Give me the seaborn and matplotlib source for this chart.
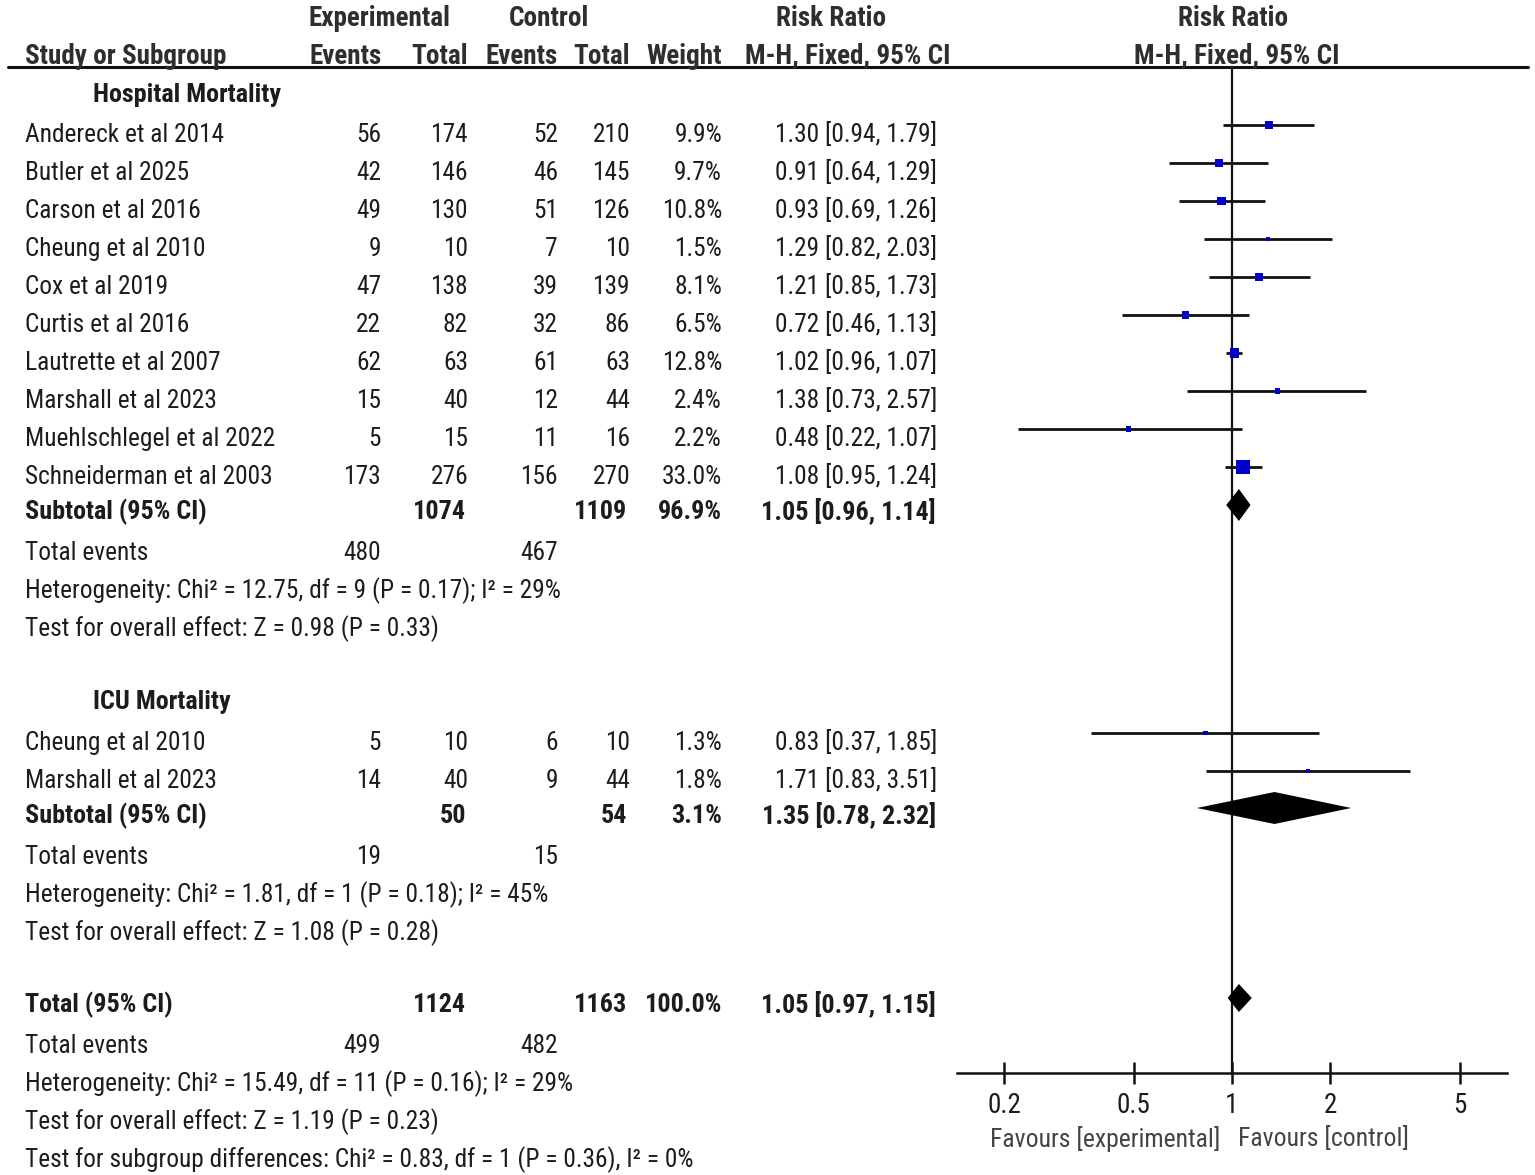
import numpy as np
import pandas as pd
import matplotlib
matplotlib.use('Agg')
import matplotlib.pyplot as plt
import seaborn as sns

sns.set_style('white')
plt.rcParams['font.family'] = ['Roboto Condensed', 'DejaVu Sans']

# ---- data ----
hosp_names = ['Andereck et al 2014', 'Butler et al 2025', 'Carson et al 2016', 'Cheung et al 2010',
              'Cox et al 2019', 'Curtis et al 2016', 'Lautrette et al 2007', 'Marshall et al 2023',
              'Muehlschlegel et al 2022', 'Schneiderman et al 2003']
hosp_exp_ev = [56, 42, 49, 9, 47, 22, 62, 15, 5, 173]
hosp_exp_n = [174, 146, 130, 10, 138, 82, 63, 40, 15, 276]
hosp_ctl_ev = [52, 46, 51, 7, 39, 32, 61, 12, 11, 156]
hosp_ctl_n = [210, 145, 126, 10, 139, 86, 63, 44, 16, 270]
hosp_weight = [9.9, 9.7, 10.8, 1.5, 8.1, 6.5, 12.8, 2.4, 2.2, 33.0]
hosp_rr = [1.30, 0.91, 0.93, 1.29, 1.21, 0.72, 1.02, 1.38, 0.48, 1.08]
hosp_lo = [0.94, 0.64, 0.69, 0.82, 0.85, 0.46, 0.96, 0.73, 0.22, 0.95]
hosp_hi = [1.79, 1.29, 1.26, 2.03, 1.73, 1.13, 1.07, 2.57, 1.07, 1.24]

icu_names = ['Cheung et al 2010', 'Marshall et al 2023']
icu_exp_ev = [5, 14]
icu_exp_n = [10, 40]
icu_ctl_ev = [6, 9]
icu_ctl_n = [10, 44]
icu_weight = [1.3, 1.8]
icu_rr = [0.83, 1.71]
icu_lo = [0.37, 0.83]
icu_hi = [1.85, 3.51]

# pooled rows
hosp_sub = dict(exp_n=1074, ctl_n=1109, weight=96.9, rr=1.05, lo=0.96, hi=1.14, exp_ev=480, ctl_ev=467)
icu_sub = dict(exp_n=50, ctl_n=54, weight=3.1, rr=1.35, lo=0.78, hi=2.32, exp_ev=19, ctl_ev=15)
overall = dict(exp_n=1124, ctl_n=1163, weight=100.0, rr=1.05, lo=0.97, hi=1.15, exp_ev=499, ctl_ev=482)

hosp_het = 'Heterogeneity: Chi\u00b2 = 12.75, df = 9 (P = 0.17); I\u00b2 = 29%'
hosp_eff = 'Test for overall effect: Z = 0.98 (P = 0.33)'
icu_het = 'Heterogeneity: Chi\u00b2 = 1.81, df = 1 (P = 0.18); I\u00b2 = 45%'
icu_eff = 'Test for overall effect: Z = 1.08 (P = 0.28)'
all_het = 'Heterogeneity: Chi\u00b2 = 15.49, df = 11 (P = 0.16); I\u00b2 = 29%'
all_eff = 'Test for overall effect: Z = 1.19 (P = 0.23)'
all_sub = 'Test for subgroup differences: Chi\u00b2 = 0.83, df = 1 (P = 0.36), I\u00b2 = 0%'

ticks = [0.2, 0.5, 1, 2, 5]
tick_labels = ['0.2', '0.5', '1', '2', '5']

# ---- layout (pixel units, figure is 1535 x 1175) ----
W, H = 1535, 1175
FS = 18.3        # body text
FSB = 18.8       # bold body text
FSH = 19.5       # header
TXT = '#1c1c1c'
col_name = 25
col_eev, col_en, col_cev, col_cn, col_w, col_rr = 381, 468, 558, 630, 722, 937
row0, dy = 135, 38
hosp_y = [row0 + i * dy for i in range(len(hosp_names))]
y_hosp_sub = 512
y_icu_head = 702
icu_y = [743, 781]
y_icu_sub = 816
y_total = 1005
y_axis = 1073
MARK_DY = -10

fig = plt.figure(figsize=(W / 100, H / 100), dpi=100)
tab = fig.add_axes([0, 0, 1, 1])
tab.set_xlim(0, W)
tab.set_ylim(H, 0)
tab.axis('off')


def txt(x, y, s, ha='left', bold=False, **kw):
    fs = kw.pop('fs', FSB if bold else FS)
    tab.text(x, y, s, ha=ha, va='center', fontsize=fs,
             fontweight='bold' if bold else 'normal', color=kw.pop('color', TXT), **kw)


def ci_str(r, l, h):
    return f'{r:.2f} [{l:.2f}, {h:.2f}]'


# header
hc = '#2e2e2e'
txt(379, 19, 'Experimental', ha='center', bold=True, color=hc, fs=FSH)
txt(549, 19, 'Control', ha='center', bold=True, color=hc, fs=FSH)
txt(831, 19, 'Risk Ratio', ha='center', bold=True, color=hc, fs=FSH)
txt(1233, 19, 'Risk Ratio', ha='center', bold=True, color=hc, fs=FSH)
txt(col_name, 56, 'Study or Subgroup', bold=True, color=hc, fs=FSH)
txt(col_eev + 1, 56, 'Events', ha='right', bold=True, color=hc, fs=FSH)
txt(col_en, 56, 'Total', ha='right', bold=True, color=hc, fs=FSH)
txt(col_cev, 56, 'Events', ha='right', bold=True, color=hc, fs=FSH)
txt(col_cn, 56, 'Total', ha='right', bold=True, color=hc, fs=FSH)
txt(col_w, 56, 'Weight', ha='right', bold=True, color=hc, fs=FSH)
txt(848, 56, 'M-H, Fixed, 95% CI', ha='center', bold=True, color=hc, fs=FSH)
txt(1237, 56, 'M-H, Fixed, 95% CI', ha='center', bold=True, color=hc, fs=FSH)
tab.plot([8, 1528], [67, 67], color='#111111', lw=2.2)


def study_rows(ys, names, eev, en, cev, cn, wt, rr, lo, hi):
    for i, y in enumerate(ys):
        txt(col_name, y, names[i])
        txt(col_eev, y, str(eev[i]), ha='right')
        txt(col_en, y, str(en[i]), ha='right')
        txt(col_cev, y, str(cev[i]), ha='right')
        txt(col_cn, y, str(cn[i]), ha='right')
        txt(col_w, y, f'{wt[i]:.1f}%', ha='right')
        txt(col_rr, y, ci_str(rr[i], lo[i], hi[i]), ha='right')


def summary_rows(y, label, d, het, eff, extra=None):
    txt(col_name, y, label, bold=True)
    txt(col_en - 2, y, str(d['exp_n']), ha='right', bold=True)
    txt(col_cn - 3, y, str(d['ctl_n']), ha='right', bold=True)
    txt(col_w, y, f"{d['weight']:.1f}%", ha='right', bold=True)
    txt(col_rr - 1, y, ci_str(d['rr'], d['lo'], d['hi']), ha='right', bold=True)
    txt(col_name, y + 41, 'Total events')
    txt(col_eev, y + 41, str(d['exp_ev']), ha='right')
    txt(col_cev, y + 41, str(d['ctl_ev']), ha='right')
    txt(col_name, y + 79, het)
    txt(col_name, y + 117, eff)
    if extra:
        txt(col_name, y + 155, extra)


txt(93, 95, 'Hospital Mortality', bold=True)
study_rows(hosp_y, hosp_names, hosp_exp_ev, hosp_exp_n, hosp_ctl_ev, hosp_ctl_n,
           hosp_weight, hosp_rr, hosp_lo, hosp_hi)
summary_rows(y_hosp_sub, 'Subtotal (95% CI)', hosp_sub, hosp_het, hosp_eff)
txt(93, y_icu_head, 'ICU Mortality', bold=True)
study_rows(icu_y, icu_names, icu_exp_ev, icu_exp_n, icu_ctl_ev, icu_ctl_n,
           icu_weight, icu_rr, icu_lo, icu_hi)
summary_rows(y_icu_sub, 'Subtotal (95% CI)', icu_sub, icu_het, icu_eff)
summary_rows(y_total, 'Total (95% CI)', overall, all_het, all_eff, extra=all_sub)

# ---- forest panel ----
x0, x1 = 957, 1507
fx = fig.add_axes([x0 / W, 0, (x1 - x0) / W, 1])
fx.patch.set_alpha(0)
fx.set_xscale('log')
lim = 6.98
fx.set_xlim(1 / lim, lim)
fx.set_ylim(H, 0)

studies = pd.DataFrame({
    'y': np.array(hosp_y + icu_y) + MARK_DY,
    'rr': hosp_rr + icu_rr,
    'lo': hosp_lo + icu_lo,
    'hi': hosp_hi + icu_hi,
    'weight': hosp_weight + icu_weight,
})
# square side grows with sqrt(weight), with a small minimum size (px -> pt^2)
studies['area'] = ((2.2 + 1.95 * np.sqrt(studies['weight'])) * 0.72) ** 2
amin, amax = studies['area'].min(), studies['area'].max()

fx.hlines(studies['y'], studies['lo'], studies['hi'], color='#111111', lw=2)
fx.axvline(1, ymin=1 - y_axis / H, ymax=1 - 67 / H, color='#111111', lw=1.6)
sns.scatterplot(data=studies, x='rr', y='y', size='area', sizes=(amin, amax), size_norm=(amin, amax),
                marker='s', color='#0000c8', edgecolor='none', legend=False, ax=fx, zorder=3)

for d, yc, hh in [(hosp_sub, y_hosp_sub - 7, 16), (icu_sub, y_icu_sub - 8, 16), (overall, y_total - 7, 14)]:
    fx.fill([d['lo'], d['rr'], d['hi'], d['rr']], [yc, yc - hh, yc, yc + hh],
            color='black', lw=0, zorder=4)

for s in ['left', 'right', 'top']:
    fx.spines[s].set_visible(False)
fx.spines['bottom'].set_position(('data', y_axis))
fx.spines['bottom'].set_linewidth(1.8)
fx.spines['bottom'].set_color('#111111')
fx.set_xticks(ticks)
fx.set_xticklabels(tick_labels)
fx.minorticks_off()
fx.tick_params(axis='x', direction='inout', length=16, width=1.8, pad=6, labelsize=FSH,
               colors='#111111', labelcolor=TXT, bottom=True)
fx.set_yticks([])
fx.set_xlabel('')
fx.set_ylabel('')

txt(1105, 1139, 'Favours [experimental]', ha='center', color='#444444', fs=18.5)
txt(1324, 1139, 'Favours [control]', ha='center', color='#444444', fs=18.5)

fig.savefig('out.png', dpi=100)
plt.close()
